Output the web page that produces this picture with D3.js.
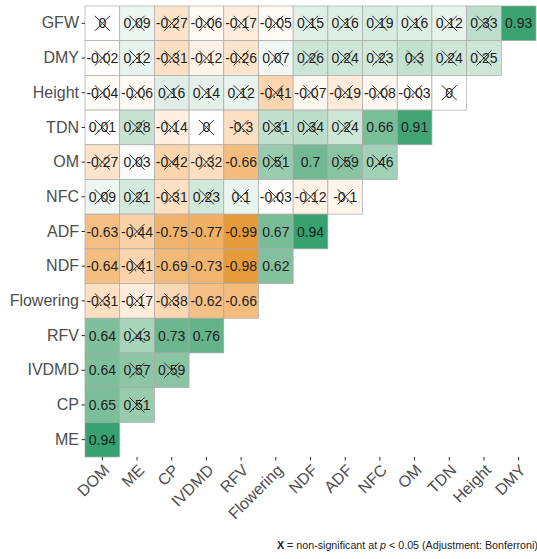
<!DOCTYPE html>
<html>
<head>
<meta charset="utf-8">
<script src="https://cdn.jsdelivr.net/npm/d3@7"></script>
<style>
  html, body { margin: 0; padding: 0; background: #fff; }
  svg { display: block; font-family: "Liberation Sans", Arial, Helvetica, sans-serif; }
</style>
</head>
<body>
<svg id="chart" width="537" height="559"></svg>
<script>
// Column variables (x axis, left to right)
const xVars = ["DOM", "ME", "CP", "IVDMD", "RFV", "Flowering", "NDF", "ADF", "NFC", "OM", "TDN", "Height", "DMY"];
// Row variables (y axis, top to bottom)
const yVars = ["GFW", "DMY", "Height", "TDN", "OM", "NFC", "ADF", "NDF", "Flowering", "RFV", "IVDMD", "CP", "ME"];

// Correlation coefficients, one array per row (columns follow xVars)
const rGFW       = [0, 0.09, -0.27, -0.06, -0.17, -0.05, 0.15, 0.16, 0.19, 0.16, 0.12, 0.33, 0.93];
const rDMY       = [-0.02, 0.12, -0.31, -0.12, -0.26, 0.07, 0.26, 0.24, 0.23, 0.3, 0.24, 0.25];
const rHeight    = [-0.04, -0.06, 0.16, 0.14, 0.12, -0.41, -0.07, -0.19, -0.08, -0.03, 0];
const rTDN       = [0.01, 0.28, -0.14, 0, -0.3, 0.31, 0.34, 0.24, 0.66, 0.91];
const rOM        = [-0.27, 0.03, -0.42, -0.32, -0.66, 0.51, 0.7, 0.59, 0.46];
const rNFC       = [0.09, 0.21, -0.31, 0.23, 0.1, -0.03, -0.12, -0.1];
const rADF       = [-0.63, -0.44, -0.75, -0.77, -0.99, 0.67, 0.94];
const rNDF       = [-0.64, -0.41, -0.69, -0.73, -0.98, 0.62];
const rFlowering = [-0.31, -0.17, -0.38, -0.62, -0.66];
const rRFV       = [0.64, 0.43, 0.73, 0.76];
const rIVDMD     = [0.64, 0.57, 0.59];
const rCP        = [0.65, 0.51];
const rME        = [0.94];

// Significance after Bonferroni adjustment (1 = significant, 0 = crossed out)
const sGFW       = [0, 0, 0, 0, 0, 0, 0, 0, 0, 0, 0, 0, 1];
const sDMY       = [0, 0, 0, 0, 0, 0, 0, 0, 0, 0, 0, 0];
const sHeight    = [0, 0, 0, 0, 0, 0, 0, 0, 0, 0, 0];
const sTDN       = [0, 0, 0, 0, 0, 0, 0, 0, 1, 1];
const sOM        = [0, 0, 0, 0, 1, 0, 1, 0, 0];
const sNFC       = [0, 0, 0, 0, 0, 0, 0, 0];
const sADF       = [1, 0, 1, 1, 1, 1, 1];
const sNDF       = [1, 0, 1, 1, 1, 1];
const sFlowering = [0, 0, 0, 1, 1];
const sRFV       = [1, 0, 1, 1];
const sIVDMD     = [1, 0, 0];
const sCP        = [1, 0];
const sME        = [1];

const rowValues = {
  GFW: rGFW, DMY: rDMY, Height: rHeight, TDN: rTDN, OM: rOM, NFC: rNFC,
  ADF: rADF, NDF: rNDF, Flowering: rFlowering, RFV: rRFV, IVDMD: rIVDMD, CP: rCP, ME: rME
};
const rowSig = {
  GFW: sGFW, DMY: sDMY, Height: sHeight, TDN: sTDN, OM: sOM, NFC: sNFC,
  ADF: sADF, NDF: sNDF, Flowering: sFlowering, RFV: sRFV, IVDMD: sIVDMD, CP: sCP, ME: sME
};

// Long-format cells
const cells = [];
yVars.forEach(rv => {
  rowValues[rv].forEach((v, i) => {
    cells.push({ row: rv, col: xVars[i], r: v, sig: rowSig[rv][i] === 1 });
  });
});

const svg = d3.select("#chart");
const plotLeft = 85, plotRight = 536, plotTop = 6, plotBottom = 457;

const x = d3.scaleBand().domain(xVars).range([plotLeft, plotRight]).padding(0);
const y = d3.scaleBand().domain(yVars).range([plotTop, plotBottom]).padding(0);

const color = d3.scaleLinear()
  .domain([-1, 0, 1])
  .range(["#E69A38", "#FFFFFF", "#249B68"])
  .interpolate(d3.interpolateLab);

// Tiles
svg.append("g")
  .selectAll("rect")
  .data(cells)
  .join("rect")
  .attr("x", d => x(d.col))
  .attr("y", d => y(d.row))
  .attr("width", x.bandwidth())
  .attr("height", y.bandwidth())
  .attr("fill", d => color(d.r))
  .attr("stroke", "#a9a9a9")
  .attr("stroke-width", 0.7);

// Coefficient labels
svg.append("g")
  .selectAll("text")
  .data(cells)
  .join("text")
  .attr("x", d => x(d.col) + x.bandwidth() / 2)
  .attr("y", d => y(d.row) + y.bandwidth() / 2)
  .attr("dy", "0.36em")
  .attr("text-anchor", "middle")
  .attr("font-size", 14)
  .attr("fill", "#1e1e1e")
  .text(d => String(d.r));

// Crosses over non-significant coefficients
const cr = 7.5;
const crosses = svg.append("g")
  .attr("stroke", "#2a2a2a")
  .attr("stroke-width", 1)
  .selectAll("g")
  .data(cells.filter(d => !d.sig))
  .join("g")
  .attr("transform", d => `translate(${x(d.col) + x.bandwidth() / 2},${y(d.row) + y.bandwidth() / 2})`);
crosses.append("line").attr("x1", -cr).attr("y1", -cr).attr("x2", cr).attr("y2", cr);
crosses.append("line").attr("x1", -cr).attr("y1", cr).attr("x2", cr).attr("y2", -cr);

// Axes
const axisFont = 16;
const yAxis = svg.append("g")
  .attr("transform", `translate(${plotLeft},0)`)
  .call(d3.axisLeft(y).tickSize(3.5).tickPadding(2.5));
yAxis.select(".domain").remove();
yAxis.selectAll(".tick line").attr("stroke", "#333");
yAxis.selectAll(".tick text")
  .attr("font-size", axisFont)
  .attr("font-family", "\"Liberation Sans\", Arial, sans-serif")
  .attr("fill", "#4d4d4d");

const xAxis = svg.append("g")
  .attr("transform", `translate(0,${plotBottom})`)
  .call(d3.axisBottom(x).tickSize(3.5).tickPadding(3));
xAxis.select(".domain").remove();
xAxis.selectAll(".tick line").attr("stroke", "#333");
xAxis.selectAll(".tick text")
  .attr("font-size", axisFont)
  .attr("font-family", "\"Liberation Sans\", Arial, sans-serif")
  .attr("fill", "#4d4d4d")
  .attr("text-anchor", "end")
  .attr("dy", "0.72em")
  .attr("y", 6)
  .attr("transform", "rotate(-45 0 6)");

// Caption
const cap = svg.append("text")
  .attr("x", 277)
  .attr("y", 549)
  .attr("font-size", 10.7)
  .attr("fill", "#222");
cap.append("tspan").attr("font-weight", "bold").text("X");
cap.append("tspan").text(" = non-significant at ");
cap.append("tspan").attr("font-style", "italic").text("p");
cap.append("tspan").text(" < 0.05 (Adjustment: Bonferroni)");
</script>
</body>
</html>
